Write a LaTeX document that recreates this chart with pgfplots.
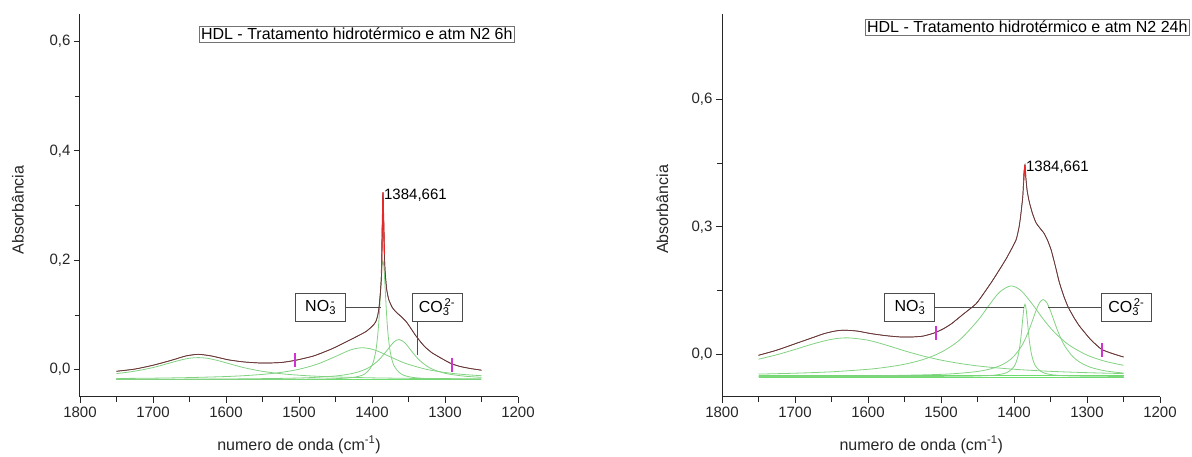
\documentclass[border=0pt]{standalone}
\usepackage{fontspec}
\setmainfont{Liberation Sans}
\usepackage{pgfplots}
\pgfplotsset{compat=1.18}

\definecolor{fitgreen}{RGB}{130,210,130}
\definecolor{basegreen}{RGB}{110,220,110}
\definecolor{totdark}{RGB}{105,55,55}
\definecolor{totpink}{RGB}{215,140,140}
\definecolor{peakred}{RGB}{230,40,40}
\definecolor{markmag}{RGB}{210,50,210}

\pgfplotsset{
  ftirstyle/.style={
    scale only axis, width=438pt, height=383pt,
    xmin=1200, xmax=1800, x dir=reverse,
    axis x line*=bottom, axis y line*=left,
    axis line style={line width=1pt, black!85},
    xtick={1200,1300,...,1800}, minor x tick num=1,
    minor y tick num=1,
    tick align=outside, major tick length=6pt, minor tick length=5pt,
    tick style={line width=0.8pt, black!85},
    /pgf/number format/use comma, /pgf/number format/1000 sep={},
    /pgf/number format/assume math mode=true,
    yticklabel style={/pgf/number format/.cd, fixed, fixed zerofill, precision=1, use comma},
    tick label style={font=\fontsize{15}{18}\selectfont, black!85},
    label style={font=\fontsize{16}{19}\selectfont, black!85},
    xlabel={numero de onda (cm\textsuperscript{-1})},
    ylabel={Absorbância},
    clip=false,
  },
  comp/.style={fitgreen, line width=0.8pt, smooth, tension=0.5, mark=none},
  base/.style={basegreen, line width=1.3pt, mark=none},
  totA/.style={totpink, line width=1.8pt, smooth, tension=0.35, mark=none},
  totB/.style={totdark, line width=0.7pt, smooth, tension=0.35, mark=none},
  pk/.style={peakred, line width=1.1pt, mark=none},
  mk/.style={markmag, only marks, mark=|, mark size=7pt, mark options={draw=markmag, line width=1.8pt}},
}
\tikzset{
  boxlab/.style={draw=black!70, line width=0.8pt, fill=white, minimum width=50pt, minimum height=28pt, inner sep=1pt, font=\fontsize{16}{19}\selectfont},
  titlebox/.style={draw=black!55, line width=0.6pt, fill=white, inner sep=2pt, font=\fontsize{16}{19}\selectfont},
}

\newcommand{\ion}[3]{#1\rlap{\textsubscript{#2}}\hspace{0.1em}\textsuperscript{#3}}

\begin{document}
\begin{tikzpicture}
\useasboundingbox (0,0) rectangle (1192pt,457pt);

% ---------- 6h ----------
\begin{axis}[ftirstyle, at={(80pt,60pt)}, anchor=south west,
  ymin=-0.05, ymax=0.65, ytick={0,0.2,0.4,0.6},
  xlabel style={at={(axis description cs:0.5,-0.125)}, anchor=center},
  ylabel style={at={(axis description cs:-0.142,0.488)}, anchor=center},
]
\addplot[base] coordinates {(1750,-0.018) (1250,-0.018)};
\addplot[comp] coordinates {
 (1750,-0.0072) (1725,-0.0028) (1700,0.0038) (1675,0.0129) (1660,0.0182)
 (1650,0.0208) (1638,0.0220) (1625,0.0206) (1610,0.0162) (1600,0.0125)
 (1575,0.0035) (1550,-0.0031) (1525,-0.0074) (1500,-0.0102) (1475,-0.0121)
 (1450,-0.0134) (1400,-0.0150) (1350,-0.0159) (1300,-0.0164) (1250,-0.0168)};
\addplot[comp] coordinates {
 (1750,-0.0162) (1700,-0.0156) (1650,-0.0145) (1600,-0.0126) (1575,-0.0110)
 (1550,-0.0087) (1525,-0.0051) (1500,0.0007) (1475,0.0100) (1450,0.0240)
 (1435,0.0331) (1425,0.0378) (1413,0.0400) (1400,0.0374) (1390,0.0326)
 (1375,0.0234) (1360,0.0146) (1350,0.0096) (1325,0.0004) (1300,-0.0052)
 (1275,-0.0088) (1250,-0.0111)};
\addplot[comp] coordinates {
 (1750,-0.0180) (1600,-0.0178) (1500,-0.0175) (1450,-0.0165) (1425,-0.0140)
 (1410,-0.0080) (1400,0.0077) (1395,0.0324) (1392,0.0648) (1390,0.1008)
 (1388,0.1493) (1386.5,0.1840) (1385,0.1990) (1383.5,0.1840) (1382,0.1493)
 (1380,0.1008) (1378,0.0648) (1375,0.0324) (1370,0.0077) (1360,-0.0080)
 (1345,-0.0140) (1320,-0.0165) (1270,-0.0175) (1250,-0.0176)};
\addplot[comp] coordinates {
 (1750,-0.0176) (1600,-0.0171) (1500,-0.0153) (1450,-0.0116) (1425,-0.0064)
 (1410,0.0001) (1400,0.0074) (1390,0.0185) (1380,0.0343) (1370,0.0504)
 (1363,0.0550) (1355,0.0491) (1345,0.0325) (1335,0.0172) (1320,0.0026)
 (1300,-0.0067) (1275,-0.0117) (1250,-0.0141)};
\pgfplotsforeachungrouped \st in {totA,totB}{
\addplot[\st] coordinates {
 (1750,-0.003) (1725,0.001) (1700,0.008) (1675,0.017) (1655,0.025) (1638,0.028)
 (1620,0.025) (1597,0.018) (1575,0.014) (1550,0.012) (1525,0.013) (1505,0.017)
 (1480,0.025) (1455,0.038) (1432,0.053) (1409,0.069) (1400,0.079) (1395,0.087)
 (1392,0.100) (1390,0.118) (1388,0.150) (1387,0.176) (1386,0.250) (1385,0.324)
 (1384,0.270) (1383,0.210) (1382,0.180) (1380,0.148) (1377,0.128) (1372,0.113)
 (1366,0.104) (1360,0.097) (1354,0.089) (1350,0.082) (1345,0.072) (1340,0.062)
 (1333,0.050) (1327,0.041) (1318,0.031) (1308,0.023) (1293,0.012) (1280,0.006)
 (1265,0.002) (1250,-0.001)};
}
\addplot[pk] coordinates {(1387,0.176) (1386,0.250) (1385,0.324) (1384,0.270) (1383,0.210)};
\addplot[mk] coordinates {(1506,0.017)};
\addplot[mk] coordinates {(1290,0.009)};

\node[titlebox] at (rel axis cs:0.632,0.948) {HDL - Tratamento hidrotérmico e atm N2 6h};
\node[anchor=west, inner sep=1pt, font=\fontsize{15}{18}\selectfont] at (axis cs:1385,0.318) {1384,661};
\draw[black!70, line width=1pt] (axis cs:1437,0.114) -- (axis cs:1387,0.114);
\draw[black!70, line width=1pt] (axis cs:1338,0.088) -- (axis cs:1338,0.026);
\node[boxlab] at (axis cs:1471,0.114) {\ion{NO}{3}{-}};
\node[boxlab] at (axis cs:1311,0.114) {\ion{CO}{3}{2-}};
\end{axis}

% ---------- 24h ----------
\begin{axis}[ftirstyle, at={(722pt,60pt)}, anchor=south west,
  ymin=-0.1, ymax=0.8, ytick={0,0.3,0.6},
  xlabel style={at={(axis description cs:0.455,-0.125)}, anchor=center},
  ylabel style={at={(axis description cs:-0.136,0.49)}, anchor=center},
]
\addplot[base, line width=1pt] coordinates {(1750,-0.049) (1250,-0.049)};
\addplot[base, line width=1pt] coordinates {(1750,-0.054) (1250,-0.054)};
\addplot[comp] coordinates {
 (1750,-0.0112) (1725,-0.0008) (1700,0.0117) (1675,0.0249) (1650,0.0355)
 (1628,0.0390) (1600,0.0334) (1575,0.0219) (1550,0.0085) (1525,-0.0035)
 (1500,-0.0133) (1475,-0.0210) (1450,-0.0269) (1425,-0.0313) (1400,-0.0348)
 (1375,-0.0375) (1350,-0.0397) (1325,-0.0414) (1300,-0.0428) (1275,-0.0440)
 (1250,-0.0449)};
\addplot[comp] coordinates {
 (1750,-0.0462) (1700,-0.0441) (1650,-0.0408) (1600,-0.0349) (1575,-0.0300)
 (1550,-0.0230) (1525,-0.0122) (1500,0.0050) (1475,0.0333) (1450,0.0788)
 (1435,0.1136) (1420,0.1460) (1404,0.1610) (1390,0.1493) (1375,0.1184)
 (1360,0.0832) (1345,0.0527) (1325,0.0226) (1300,-0.0015) (1275,-0.0162)
 (1250,-0.0255)};
\addplot[comp] coordinates {
 (1750,-0.0516) (1500,-0.0515) (1450,-0.0506) (1425,-0.0483) (1410,-0.0427)
 (1400,-0.0286) (1395,-0.0070) (1392,0.0200) (1390,0.0483) (1388,0.0840)
 (1386.5,0.1080) (1385,0.1180) (1383.5,0.1080) (1382,0.0840) (1380,0.0483)
 (1378,0.0200) (1375,-0.0070) (1370,-0.0286) (1360,-0.0427) (1345,-0.0483)
 (1320,-0.0506) (1270,-0.0515) (1250,-0.0515)};
\addplot[comp] coordinates {
 (1750,-0.0513) (1600,-0.0502) (1500,-0.0468) (1450,-0.0400) (1425,-0.0303)
 (1410,-0.0181) (1400,-0.0041) (1390,0.0186) (1385,0.0348) (1380,0.0548)
 (1375,0.0782) (1370,0.1022) (1365,0.1215) (1360,0.1290) (1355,0.1215)
 (1350,0.1022) (1345,0.0782) (1340,0.0548) (1335,0.0348) (1330,0.0186)
 (1320,-0.0041) (1310,-0.0181) (1295,-0.0303) (1275,-0.0386) (1250,-0.0438)};
\pgfplotsforeachungrouped \st in {totA,totB}{
\addplot[\st] coordinates {
 (1750,-0.002) (1725,0.010) (1700,0.025) (1675,0.040) (1660,0.049) (1645,0.055)
 (1633,0.057) (1615,0.055) (1596,0.049) (1575,0.044) (1555,0.041) (1540,0.041)
 (1525,0.043) (1510,0.050) (1497,0.060) (1485,0.073) (1470,0.094) (1452,0.119)
 (1440,0.147) (1430,0.172) (1420,0.199) (1411,0.224) (1404,0.246) (1397,0.270)
 (1393,0.300) (1391,0.324) (1388,0.370) (1387,0.402) (1386,0.430) (1385,0.445)
 (1384,0.420) (1382,0.385) (1379,0.358) (1375,0.333) (1370,0.310) (1365,0.298)
 (1359,0.285) (1354,0.268) (1349,0.245) (1343,0.205) (1338,0.170) (1332,0.138)
 (1326,0.112) (1318,0.087) (1310,0.066) (1295,0.035) (1280,0.012) (1265,0.002)
 (1250,-0.006)};
}
\addplot[pk] coordinates {(1387,0.402) (1386,0.430) (1385,0.445) (1384,0.420)};
\addplot[mk] coordinates {(1507,0.051)};
\addplot[mk] coordinates {(1279,0.010)};

\node[titlebox] at (rel axis cs:0.697,0.966) {HDL - Tratamento hidrotérmico e atm N2 24h};
\node[anchor=west, inner sep=1pt, font=\fontsize{15}{18}\selectfont] at (axis cs:1385,0.441) {1384,661};
\draw[black!70, line width=1pt] (axis cs:1509,0.111) -- (axis cs:1386,0.111);
\draw[black!70, line width=1pt] (axis cs:1353,0.111) -- (axis cs:1280,0.111);
\node[boxlab] at (axis cs:1543,0.111) {\ion{NO}{3}{-}};
\node[boxlab] at (axis cs:1246,0.111) {\ion{CO}{3}{2-}};
\end{axis}
\end{tikzpicture}
\end{document}
